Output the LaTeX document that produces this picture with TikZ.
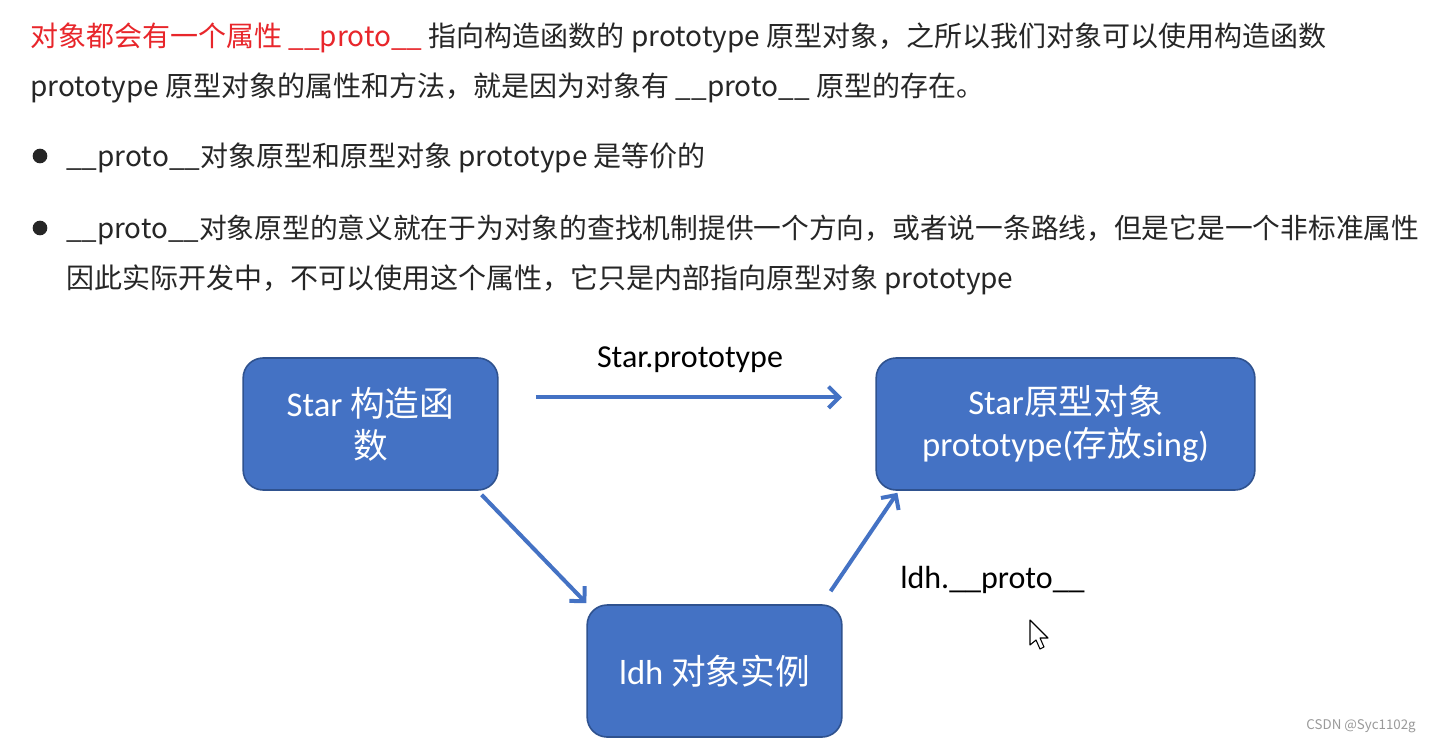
\documentclass[tikz,border=0pt]{standalone}
\usepackage{fontspec}
\setmainfont{Noto Sans CJK SC}
\newfontfamily\calfont{Carlito}
\usetikzlibrary{arrows.meta, positioning, calc}
\definecolor{boxblue}{HTML}{4472C4}
\definecolor{boxedge}{HTML}{2F528F}
\definecolor{textred}{HTML}{E8262B}
\definecolor{textdark}{HTML}{262626}
\definecolor{markgray}{HTML}{9A9A9A}

\begin{document}
\begin{tikzpicture}[x=0.75pt, y=-0.75pt, >={Straight Barb[length=8pt, width=16pt]},
    objbox/.style={draw=boxedge, fill=boxblue, line width=1.2pt, rounded corners=15pt, text=white, align=center, minimum height=99pt, inner sep=0pt, font=\fontsize{26pt}{31.5pt}\selectfont},
    link/.style={->, draw=boxblue, line width=3pt},
    txtline/.style={anchor=base west, inner sep=0pt, text=textdark, font=\fontsize{21pt}{26pt}\selectfont},
    lbl/.style={inner sep=0pt, text=black, font=\calfont\fontsize{24pt}{28pt}\selectfont}]
    \useasboundingbox[fill=white] (0,0) rectangle (1430,743);
    % text at the top
    \node[txtline] (line1) at (30,46) {{\color{textred}对象都会有一个属性 \_\_proto\_\_ }指向构造函数的 prototype 原型对象，之所以我们对象可以使用构造函数};
    \node[txtline] (line2) at (30,96) {prototype 原型对象的属性和方法，就是因为对象有 \_\_proto\_\_ 原型的存在。};
    \node[circle, fill=textdark, inner sep=0pt, minimum size=11pt] (dot1) at (40,156) {};
    \node[txtline] (item1) at (66,166) {\_\_proto\_\_对象原型和原型对象 prototype 是等价的};
    \node[circle, fill=textdark, inner sep=0pt, minimum size=11pt] (dot2) at (40,228) {};
    \node[txtline, font=\fontsize{20.8pt}{26pt}\selectfont] (item2) at (66,238) {\_\_proto\_\_对象原型的意义就在于为对象的查找机制提供一个方向，或者说一条路线，但是它是一个非标准属性};
    \node[txtline] (item2b) at (66,288) {因此实际开发中，不可以使用这个属性，它只是内部指向原型对象 prototype};
    % the three objects
    \node[objbox, minimum width=191pt] (star) at (370.5,424) {{\calfont Star} 构造函\\数};
    \node[objbox, minimum width=284pt] (proto) at (1065.5,424) {{\calfont Star}原型对象\\{\calfont prototype(}存放{\calfont sing)}};
    \node[objbox, minimum width=191pt] (ldh) at (714.5,671) {{\calfont ldh} 对象实例};
    % links
    \draw[link] ([xshift=28pt, yshift=20pt]star.east) -- ([xshift=-25pt, yshift=20pt]proto.west);
    \draw[link] ([xshift=-12.75pt, yshift=-3pt]star.south east) -- ([yshift=0.75pt]ldh.north west);
    \draw[link] ([xshift=-9pt, yshift=9.75pt]ldh.north east) -- ([xshift=16.5pt, yshift=-1.5pt]proto.south west);
    \node[lbl] (protolbl) at (690,360) {Star.prototype};
    \node[lbl, anchor=west] (dunderlbl) at (900,580) {ldh.\_\_proto\_\_};
    % mouse pointer
    \draw[fill=white, line width=0.8pt, line join=round] (1030,620) -- (1030,645) -- (1036,640) -- (1040,649) -- (1044,647) -- (1040,638) -- (1048,638) -- cycle;
    \node[anchor=east, inner sep=0pt, text=markgray, font=\fontsize{10pt}{12pt}\selectfont] (mark) at (1416,726) {CSDN @Syc1102g};
\end{tikzpicture}
\end{document}
